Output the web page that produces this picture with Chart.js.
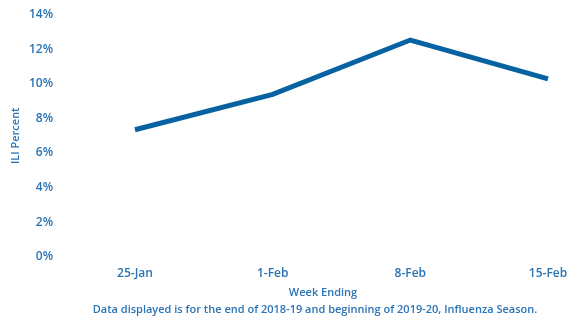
<!DOCTYPE html>
<html>
<head>
<meta charset="utf-8">
<script src="https://cdn.jsdelivr.net/npm/chart.js@4"></script>
<style>
  html, body { margin: 0; padding: 0; background: #fff; overflow: hidden; }
  canvas { display: block; }
</style>
</head>
<body>
<canvas id="iliChart" width="571" height="317"></canvas>
<script>
const weekLabels = ["25-Jan", "1-Feb", "8-Feb", "15-Feb"];
const iliPercent = [7.35, 9.4, 12.55, 10.3];
const yTicks = [0, 2, 4, 6, 8, 10, 12, 14];

const textBlue = '#2a73b5';
const lineBlue = '#0662a0';

// draws the x title and the footnote under the axis
const notesPlugin = {
  id: 'notes',
  afterDraw(chart) {
    const ctx = chart.ctx;
    ctx.save();
    ctx.fillStyle = textBlue;
    ctx.textAlign = 'center';
    ctx.textBaseline = 'middle';
    ctx.font = '600 11px "Open Sans"';
    ctx.fillText('Week Ending', 323, 293);
    ctx.fillText('Data displayed is for the end of 2018-19 and beginning of 2019-20, Influenza Season.', 315, 310);
    ctx.restore();
  }
};

new Chart(document.getElementById('iliChart').getContext('2d'), {
  type: 'line',
  data: {
    labels: weekLabels,
    datasets: [{
      data: iliPercent,
      borderColor: lineBlue,
      borderWidth: 5,
      pointRadius: 0,
      tension: 0,
      fill: false
    }]
  },
  options: {
    responsive: false,
    animation: false,
    layout: { padding: { top: 15, right: 23, bottom: 26, left: 9 } },
    plugins: {
      legend: { display: false },
      tooltip: { enabled: false }
    },
    scales: {
      x: {
        offset: false,
        afterFit: function(axis) {
          axis.paddingLeft = 0;
          axis.paddingRight = 0;
        },
        grid: { display: false, drawTicks: false },
        border: { display: false },
        ticks: {
          color: textBlue,
          font: { family: 'Open Sans', size: 12, weight: '600' },
          padding: 10,
          maxRotation: 0
        }
      },
      y: {
        min: 0,
        max: 14,
        afterBuildTicks: function(axis) {
          axis.ticks = yTicks.map(v => ({ value: v }));
        },
        afterFit: function(axis) {
          // big tick padding would otherwise be added above and below the axis too
          axis.paddingTop = 0;
          axis.paddingBottom = 0;
          axis.width = 126;
        },
        grid: { display: false, drawTicks: false },
        border: { display: false },
        title: {
          display: true,
          text: 'ILI Percent',
          color: textBlue,
          font: { family: 'Open Sans', size: 11, weight: '600' },
          padding: { top: 0, bottom: 6 }
        },
        ticks: {
          color: textBlue,
          font: { family: 'Open Sans', size: 12, weight: '600' },
          padding: 82,
          callback: function(value) { return value + '%'; }
        }
      }
    }
  },
  plugins: [notesPlugin]
});
</script>
</body>
</html>
